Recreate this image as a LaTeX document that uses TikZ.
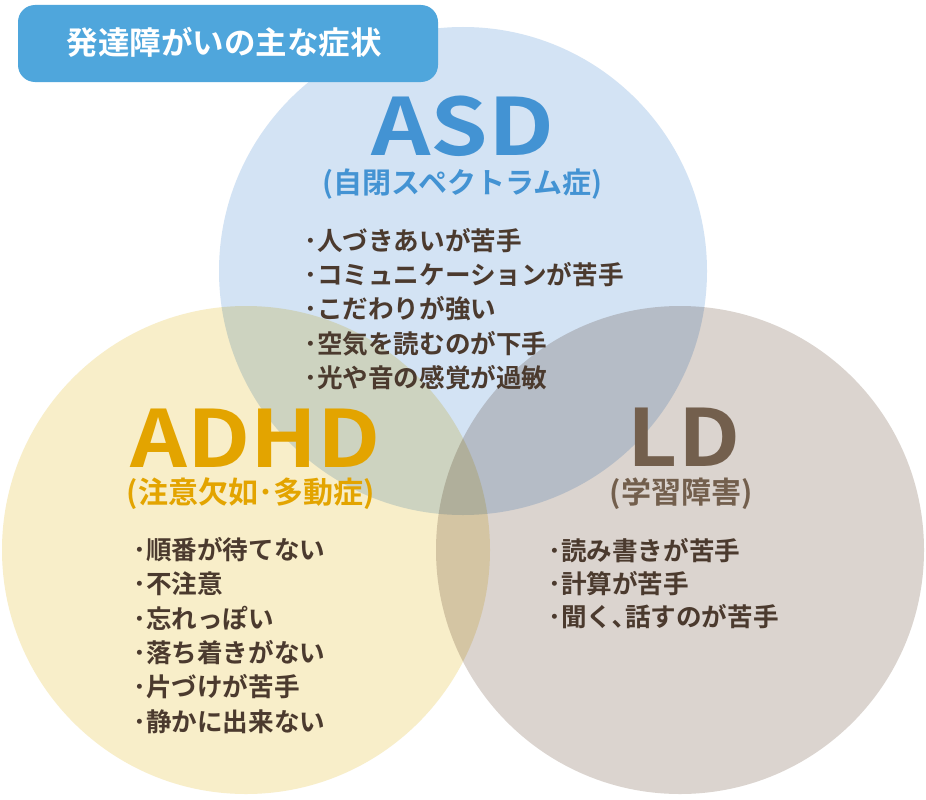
\documentclass[tikz,border=0pt]{standalone}
\usepackage{fontspec}
\usepackage{graphicx}
\newfontfamily\jp{Noto Sans CJK JP}
\newfontfamily\jpb{Noto Sans CJK JP Bold}
\definecolor{titlebg}{HTML}{4FA6DC}
\definecolor{asdfill}{HTML}{D3E3F4}
\definecolor{adhdfill}{HTML}{F8EEC9}
\definecolor{ldfill}{HTML}{DBD4CF}
\definecolor{asdtext}{HTML}{4393D3}
\definecolor{adhdtext}{HTML}{E3A400}
\definecolor{ldtext}{HTML}{735F4D}
\definecolor{bodytext}{HTML}{4B3A2E}
\tikzset{
  bigabbr/.style={inner sep=0pt, anchor=base, font=\jpb\fontsize{79}{79}\selectfont},
  subtitle/.style={inner sep=0pt, anchor=base, font=\jpb\fontsize{30}{30}\selectfont},
  bodyline/.style={inner sep=0pt, anchor=base west, text=bodytext, font=\jpb\fontsize{25.6}{25.6}\selectfont},
  venn/.style={draw=none}
}
\begin{document}
\begin{tikzpicture}[x=1pt,y=-1pt]
\useasboundingbox (0,0) rectangle (926,800);
\fill[white] (0,0) rectangle (926,800);
\begin{scope}[blend group=multiply]
  \fill[asdfill] (463,271) circle[radius=244];
  \fill[adhdfill] (246,550) circle[radius=244];
  \fill[ldfill] (680,550) circle[radius=244];
\end{scope}
\fill[titlebg, rounded corners=17pt] (18,5) rectangle (438,82);
\node[inner sep=0pt, anchor=base, text=white, font=\jpb\fontsize{31.5}{31.5}\selectfont] (title) at (224,55) {発達障がいの主な症状};
% ASD
\node[bigabbr, text=asdtext] (asd) at (463,155) {\scalebox{1.17}[1]{ASD}};
\node[subtitle, text=asdtext, font=\jpb\fontsize{29}{29}\selectfont] (asdsub) at (462.5,193.5) {(自閉スペクトラム症)};
\node[bodyline] (a1) at (304,250.5) {･人づきあいが苦手};
\node[bodyline] (a2) at (304,284.7) {･コミュニケーションが苦手};
\node[bodyline] (a3) at (304,318.9) {･こだわりが強い};
\node[bodyline] (a4) at (304,353.1) {･空気を読むのが下手};
\node[bodyline] (a5) at (304,387.3) {･光や音の感覚が過敏};
% ADHD
\node[bigabbr, text=adhdtext] (adhd) at (255.5,467) {\scalebox{1.12}[1]{ADHD}};
\node[subtitle, text=adhdtext] (adhdsub) at (250.5,503) {(注意欠如･多動症)};
\node[bodyline] (h1) at (133,559.5) {･順番が待てない};
\node[bodyline] (h2) at (133,593.8) {･不注意};
\node[bodyline] (h3) at (133,628.1) {･忘れっぽい};
\node[bodyline] (h4) at (133,662.4) {･落ち着きがない};
\node[bodyline] (h5) at (133,696.7) {･片づけが苦手};
\node[bodyline] (h6) at (133,731.0) {･静かに出来ない};
% LD
\node[bigabbr, text=ldtext] (ld) at (684,466) {\scalebox{1.1}[1]{LD}};
\node[subtitle, text=ldtext] (ldsub) at (681,503) {(学習障害)};
\node[bodyline] (l1) at (548,560) {･読み書きが苦手};
\node[bodyline] (l2) at (548,593.3) {･計算が苦手};
\node[bodyline] (l3) at (548,626.6) {･聞く､話すのが苦手};
\end{tikzpicture}
\end{document}
